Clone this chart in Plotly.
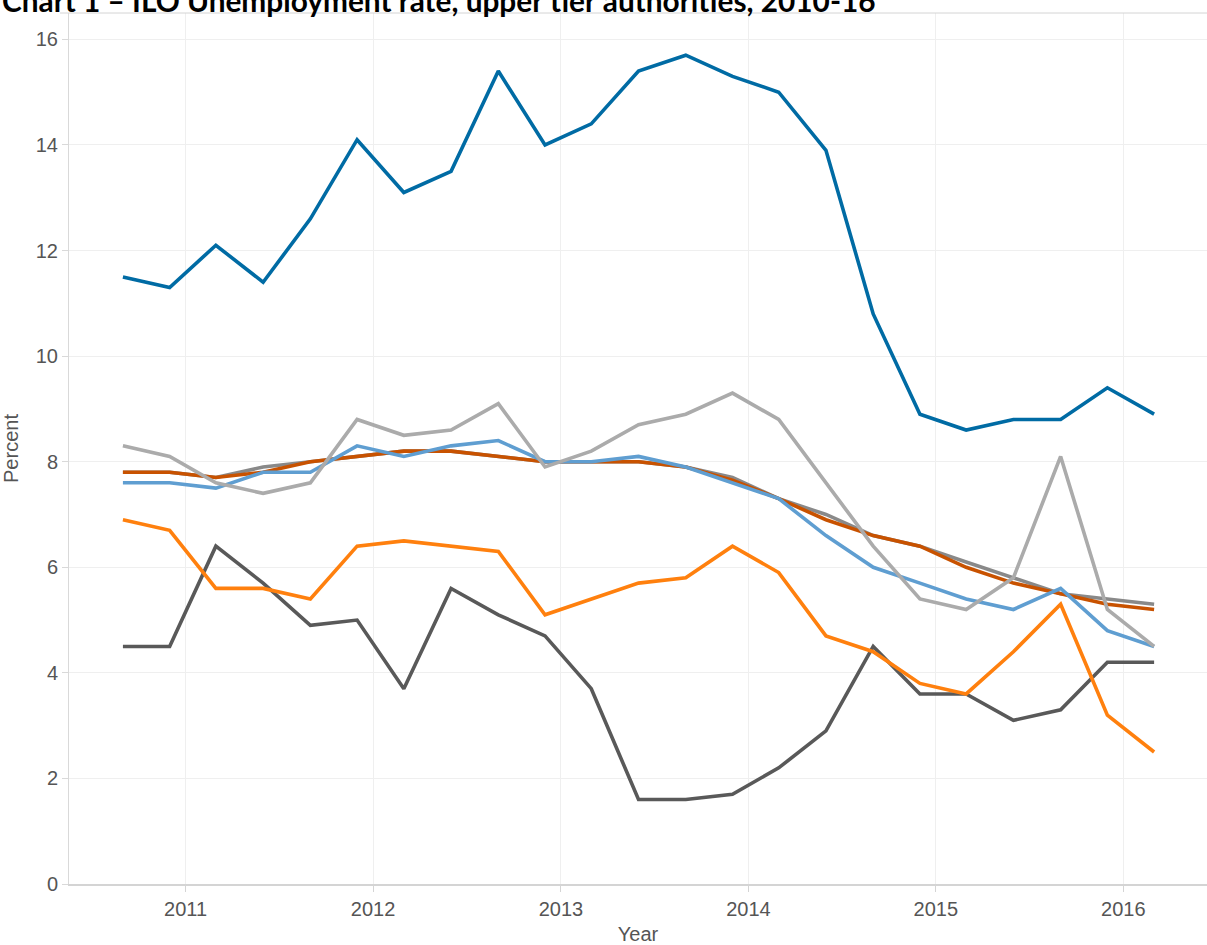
import plotly.graph_objects as go

dates = ["2010-09-01", "2010-12-01", "2011-03-01", "2011-06-01", "2011-09-01", "2011-12-01",
         "2012-03-01", "2012-06-01", "2012-09-01", "2012-12-01", "2013-03-01", "2013-06-01",
         "2013-09-01", "2013-12-01", "2014-03-01", "2014-06-01", "2014-09-01", "2014-12-01",
         "2015-03-01", "2015-06-01", "2015-09-01", "2015-12-01", "2016-03-01"]

series_grey_mid = [7.8, 7.8, 7.7, 7.9, 8.0, 8.1, 8.2, 8.2, 8.1, 8.0, 8.0, 8.0,
                   7.9, 7.7, 7.3, 7.0, 6.6, 6.4, 6.1, 5.8, 5.5, 5.4, 5.3]
series_dark_orange = [7.8, 7.8, 7.7, 7.8, 8.0, 8.1, 8.2, 8.2, 8.1, 8.0, 8.0, 8.0,
                      7.9, 7.65, 7.3, 6.9, 6.6, 6.4, 6.0, 5.7, 5.5, 5.3, 5.2]
series_light_blue = [7.6, 7.6, 7.5, 7.8, 7.8, 8.3, 8.1, 8.3, 8.4, 8.0, 8.0, 8.1,
                     7.9, 7.6, 7.3, 6.6, 6.0, 5.7, 5.4, 5.2, 5.6, 4.8, 4.5]
series_light_grey = [8.3, 8.1, 7.6, 7.4, 7.6, 8.8, 8.5, 8.6, 9.1, 7.9, 8.2, 8.7,
                     8.9, 9.3, 8.8, 7.6, 6.4, 5.4, 5.2, 5.8, 8.1, 5.2, 4.5]
series_dark_grey = [4.5, 4.5, 6.4, 5.7, 4.9, 5.0, 3.7, 5.6, 5.1, 4.7, 3.7, 1.6,
                    1.6, 1.7, 2.2, 2.9, 4.5, 3.6, 3.6, 3.1, 3.3, 4.2, 4.2]
series_orange = [6.9, 6.7, 5.6, 5.6, 5.4, 6.4, 6.5, 6.4, 6.3, 5.1, 5.4, 5.7,
                 5.8, 6.4, 5.9, 4.7, 4.4, 3.8, 3.6, 4.4, 5.3, 3.2, 2.5]
series_dark_blue = [11.5, 11.3, 12.1, 11.4, 12.6, 14.1, 13.1, 13.5, 15.4, 14.0, 14.4, 15.4,
                    15.7, 15.3, 15.0, 13.9, 10.8, 8.9, 8.6, 8.8, 8.8, 9.4, 8.9]

y_ticks = [0, 2, 4, 6, 8, 10, 12, 14, 16]
title_text = "Chart 1 – ILO Unemployment rate, upper tier authorities, 2010-16"

traces = [
    (series_grey_mid, "#898989"),
    (series_dark_orange, "#C85200"),
    (series_light_blue, "#5F9ED1"),
    (series_light_grey, "#ABABAB"),
    (series_dark_grey, "#595959"),
    (series_orange, "#FF800E"),
    (series_dark_blue, "#006BA4"),
]

fig = go.Figure()
for vals, col in traces:
    fig.add_trace(go.Scatter(x=dates, y=vals, mode="lines",
                             line=dict(color=col, width=3.6), showlegend=False))

axis_font = dict(family="Arial, Liberation Sans, sans-serif", size=20, color="#555555")

fig.update_layout(
    width=1207, height=945,
    margin=dict(l=69, r=0, t=13, b=61),
    paper_bgcolor="white", plot_bgcolor="white",
    font=axis_font,
    showlegend=False,
)
fig.update_xaxes(
    type="date", range=["2010-05-19", "2016-06-12"],
    tick0="2011-01-01", dtick="M12", tickformat="%Y",
    showgrid=True, gridcolor="#efefef", gridwidth=1,
    showline=True, linecolor="#d4d4d4", linewidth=1.5,
    ticks="outside", ticklen=6, tickcolor="#d4d4d4",
    tickfont=axis_font,
    title=dict(text="Year", font=axis_font, standoff=8),
    zeroline=False,
)
fig.update_yaxes(
    range=[0, 16.5], tickvals=y_ticks,
    showgrid=True, gridcolor="#efefef", gridwidth=1,
    showline=True, linecolor="#d9d9d9", linewidth=1,
    ticks="outside", ticklen=6, tickcolor="#d9d9d9",
    tickfont=axis_font,
    title=dict(text="Percent", font=axis_font, standoff=12),
    zeroline=False,
)
fig.add_shape(type="line", xref="paper", yref="paper", x0=-0.008, x1=1, y0=1, y1=1,
              line=dict(color="#d4d4d4", width=1))
fig.add_annotation(text="<b>" + title_text + "</b>", xref="paper", yref="paper",
                   x=-0.061, y=1, xanchor="left", yanchor="bottom", yshift=-7,
                   showarrow=False,
                   font=dict(family="Lato, Open Sans, sans-serif", size=29.8, color="#000000"))

fig.write_html("out.html", config={"displayModeBar": False},
               post_script="document.body.style.margin='0px';document.body.style.overflow='hidden';")
